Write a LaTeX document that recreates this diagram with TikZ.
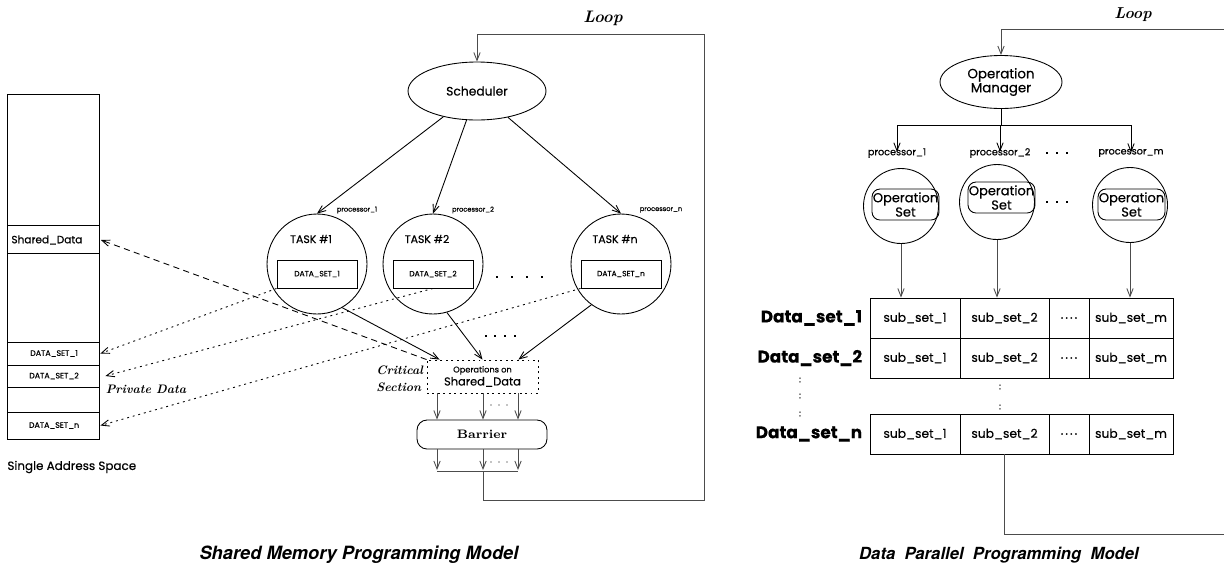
\documentclass[tikz,border=0pt]{standalone}
\usepackage{fontspec}
\usetikzlibrary{arrows.meta,shapes.geometric}
\newfontfamily\gothic{Poppins}[FakeBold=0.5]
\newfontfamily\heros{TeX Gyre Heros}
\tikzset{
  >={Straight Barb[length=4.5pt,width=3.6pt]},
  txt/.style={font=\gothic\fontsize{#1pt}{#1pt}\selectfont, inner sep=0pt},
  slab/.style={font=\bfseries\itshape\fontsize{#1pt}{#1pt}\selectfont, inner sep=0pt},
  task/.style={circle, draw, minimum size=20mm, inner sep=0pt},
  dbox/.style={draw, minimum width=16mm, minimum height=5.6mm, txt=4.3},
  pcirc/.style={circle, draw, minimum size=15mm, inner sep=0pt},
  opbox/.style={draw, rounded corners=1.6mm, minimum width=13.4mm, minimum height=6.2mm,
    align=center, font=\gothic\fontsize{7.4pt}{6.5pt}\selectfont, inner sep=0pt},
  cell/.style={draw, minimum height=8mm, inner sep=0pt, txt=7},
  big/.style={font=\gothic\bfseries\fontsize{9.6pt}{9.6pt}\selectfont, inner sep=0pt},
  title/.style={font=\heros\bfseries\itshape\fontsize{#1pt}{#1pt}\selectfont, inner sep=0pt},
  priv/.style={dash pattern=on 1.1pt off 2.2pt, ->},
  soft/.style={black!70},
}
\begin{document}
\begin{tikzpicture}[x=0.02cm, y=-0.02cm, line width=0.5pt]
\useasboundingbox (0,0) rectangle (1224,566);

% single address space
\draw (7,94) rectangle (99,439);
\foreach \y in {225,253,342,365,387,412} \draw (7,\y) -- (99,\y);
\node[txt=6, anchor=west, text width=17.8mm] (shared) at (11,240) {Shared\_Data};
\node[txt=4.5, minimum width=18.4mm] (m1) at (54,353.5) {DATA\_SET\_1};
\node[txt=4.5, minimum width=18.4mm] (m2) at (54,376) {DATA\_SET\_2};
\node[txt=4.5, minimum width=18.4mm] (mn) at (54,425.5) {DATA\_SET\_n};
\node[txt=6.8, anchor=west] at (7,467) {Single Address Space};
\node[slab=7] at (146,389) {Private Data};

% scheduler and tasks
\node[ellipse, draw, minimum width=27.6mm, minimum height=11.6mm, txt=7] (sched) at (477,91) {Scheduler};
\node[slab=9.5] at (603,18) {Loop};
\foreach \i/\x in {1/317,2/433,n/621} {
  \node[task] (t\i) at (\x,264) {};
  \node[txt=6.2] at (\x-6,239) {TASK \#\i};
  \node[dbox] (b\i) at (\x,274) {DATA\_SET\_\i};
  \node[txt=3.8] at (\x+40,210) {processor\_\i};
  \draw[->] (sched) -- (t\i.north);
}
\foreach \x in {497,512,527,542} \fill (\x-1.2,275.8) rectangle +(2.6,2.6);

% critical section and barrier
\node[draw, dash pattern=on 1.1pt off 2pt, minimum width=22.2mm, minimum height=6.6mm,
  align=center, font=\gothic\fontsize{6.5pt}{7.4pt}\selectfont, inner sep=0pt] (crit) at (482.5,376.5)
  {{\fontsize{4.7pt}{5pt}\selectfont Operations on}\\Shared\_Data};
\node[font=\bfseries\itshape\fontsize{7pt}{9.6pt}\selectfont, align=left, anchor=west, inner sep=0pt]
  at (376,378.5) {Critical\\Section};
\foreach \x in {486,495,505,515} \fill (\x-1.2,334.8) rectangle +(2.4,2.4);
\draw[->] (t1.300) -- ([xshift=2.6mm]crit.north west);
\draw[->] (t2.286) -- (crit.north);
\draw[->] (tn.234) -- ([xshift=-4mm]crit.north east);

\node[draw, rounded corners=2mm, minimum width=26mm, minimum height=5.8mm,
  font=\bfseries\fontsize{7pt}{8pt}\selectfont, inner sep=0pt] (barrier) at (482,434.5) {Barrier};
\foreach \x in {437,483,518} {
  \draw[->, soft] (crit.south -| \x,0) -- (barrier.north -| \x,0);
  \draw[->, soft] (barrier.south -| \x,0) -- (\x,470);
}
\foreach \y in {405,462} \foreach \x in {491,499,507} \fill (\x,\y) circle (0.7);
\coordinate (join) at (483,471);
\draw[soft] (437,471) -- (518,471);
\draw[->, soft] (join) -- (483,500) -| (704,34) -| (sched.north);

% private and shared data references
\draw[->, dash pattern=on 3.5pt off 2.5pt] (crit.north west) -- (shared.east);
\draw[priv] (b1.south west) -- (m1.east);
\draw[priv] (b2.south) -- ([xshift=1mm]m2.east);
\draw[priv] (bn.south west) -- (mn.east);

% operation manager
\node[ellipse, draw, minimum width=24.4mm, minimum height=10.6mm, align=center,
  font=\gothic\fontsize{7.6pt}{8pt}\selectfont, inner sep=0pt] (mgr) at (1001,82) {Operation\\Manager};
\node[slab=9] at (1133,15) {Loop};
\draw[->, soft] (1224,29) -| (mgr.north);
\coordinate (bus) at (1001,125);
\draw (mgr.south) -- (bus);
\foreach \i/\x in {1/897,2/1000,m/1131} {
  \node[txt=5.5] (pl\i) at (\x,153) {processor\_\i};
  \draw[->] (pl\i.north |- bus) -- ([yshift=-0.8mm]pl\i.north);
}
\draw (pl1.north |- bus) -- (plm.north |- bus);
\foreach \y in {153,202} \foreach \x in {1047,1057,1067} \fill (\x-1,\y-1) rectangle +(2.2,2.2);

\node[pcirc] (p1) at (901,206) {};
\node[pcirc] (p2) at (997,202) {};
\node[pcirc] (pm) at (1130,205) {};
\node[opbox] (o1) at (905.5,204.5) {Operation\\Set};
\node[opbox] (o2) at (1001.5,197.5) {Operation\\Set};
\node[opbox] (om) at (1131.5,204.5) {Operation\\Set};

% data sets
\foreach \r/\y in {1/318,2/358,n/434} {
  \node[cell, minimum width=18mm] (s\r-1) at (915,\y) {sub\_set\_1};
  \node[cell, minimum width=17.8mm] (s\r-2) at (1004.5,\y) {sub\_set\_2};
  \node[cell, minimum width=8mm] (s\r-3) at (1069,\y) {.\,.\,.\,.};
  \node[cell, minimum width=16.8mm] (s\r-4) at (1131,\y) {sub\_set\_m};
  \node[big, anchor=east] (d\r) at ([xshift=-1.4mm]s\r-1.west) {Data\_set\_\r};
}
\foreach \y in {380,396,414} \node[txt=5] at (800,\y) {:};
\foreach \y in {387,407} \node[txt=5] at (1000,\y) {:};
\draw[->, soft] (p1.south) -- (p1.south |- s1-1.north);
\draw[->, soft] (p2.south) -- (p2.south |- s1-2.north);
\draw[->, soft] (pm.south) -- (pm.south |- s1-4.north);
\draw[soft] (sn-2.south) -- (sn-2.south |- 0,534) -- (1224,534);

% captions
\node[title=10.4] at (359,555) {Shared Memory Programming Model};
\node[title=9.5] at (999,555) {Data\ \ Parallel\ \ Programming\ \ Model};
\end{tikzpicture}
\end{document}
